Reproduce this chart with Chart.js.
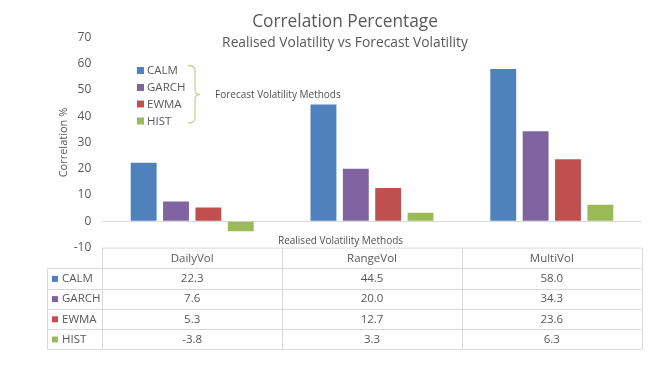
<!DOCTYPE html>
<html>
<head>
<meta charset="utf-8">
<script src="https://cdn.jsdelivr.net/npm/chart.js@4.4.1/dist/chart.umd.min.js"></script>
<style>
  body { margin: 0; background: #fff; }
  #wrap { width: 662px; height: 369px; position: relative; }
</style>
</head>
<body>
<div id="wrap"><canvas id="corrChart"></canvas></div>
<script>
// data
var categories = ['DailyVol', 'RangeVol', 'MultiVol'];
var methods = ['CALM', 'GARCH', 'EWMA', 'HIST'];
var calmValues = [22.3, 44.5, 58.0];
var garchValues = [7.6, 20.0, 34.3];
var ewmaValues = [5.3, 12.7, 23.6];
var histValues = [-3.8, 3.3, 6.3];
var yMin = -10, yMax = 70, yStep = 10;

var colors = ['#4f81bd', '#8064a2', '#c0504d', '#9bbb59'];
var seriesValues = [calmValues, garchValues, ewmaValues, histValues];
var textColor = '#595959';
var fontName = '"Open Sans", sans-serif';

var datasets = methods.map(function (m, i) {
    return {
        label: m,
        data: seriesValues[i],
        backgroundColor: colors[i],
        borderWidth: 0,
        categoryPercentage: 0.72,
        barPercentage: 0.8
    };
});

// titles, legend with brace, axis caption and the data table
var extrasPlugin = {
    id: 'extras',
    afterDraw: function (chart) {
        var ctx = chart.ctx;
        var area = chart.chartArea;
        var xs = chart.scales.x;
        ctx.save();

        // titles
        ctx.fillStyle = textColor;
        ctx.textAlign = 'center';
        ctx.textBaseline = 'alphabetic';
        ctx.font = '17.3px ' + fontName;
        ctx.fillText('Correlation Percentage', 345, 27);
        ctx.font = '13.8px ' + fontName;
        ctx.fillText('Realised Volatility vs Forecast Volatility', 345, 47);

        // legend
        ctx.textAlign = 'left';
        ctx.textBaseline = 'middle';
        ctx.font = '11.5px ' + fontName;
        var legendY = [70.5, 87.5, 104, 121];
        chart.data.datasets.forEach(function (ds, i) {
            ctx.fillStyle = ds.backgroundColor;
            ctx.fillRect(137, legendY[i] - 3.5, 7, 7);
            ctx.fillStyle = textColor;
            ctx.fillText(ds.label, 147, legendY[i] + 0.5);
        });

        // brace
        ctx.strokeStyle = '#c3d69b';
        ctx.lineWidth = 1.3;
        ctx.beginPath();
        ctx.moveTo(188, 65.5);
        ctx.quadraticCurveTo(195, 65.5, 195, 70);
        ctx.lineTo(195, 90);
        ctx.quadraticCurveTo(195, 94.5, 200, 94.5);
        ctx.quadraticCurveTo(195, 94.5, 195, 99);
        ctx.lineTo(195, 118);
        ctx.quadraticCurveTo(195, 123, 188, 123);
        ctx.stroke();

        ctx.fillStyle = '#505050';
        ctx.font = '10px ' + fontName;
        ctx.fillText('Forecast Volatility Methods', 215, 95.5);

        ctx.textAlign = 'center';
        ctx.fillText('Realised Volatility Methods', 340.5, 241);

        // data table
        var rowH = 20.2;
        var top = area.bottom + 0.5;
        var half = (xs.getPixelForValue(1) - xs.getPixelForValue(0)) / 2;
        var right = area.right;
        var labelLeft = 47.5;
        var nRows = methods.length;
        var bottomY = Math.round(top + (nRows + 1) * rowH) + 0.5;

        ctx.strokeStyle = '#d9d9d9';
        ctx.lineWidth = 1;
        ctx.beginPath();
        ctx.moveTo(area.left, top);
        ctx.lineTo(right, top);
        for (var r = 1; r <= nRows + 1; r++) {
            var y = Math.round(top + r * rowH) + 0.5;
            ctx.moveTo(labelLeft, y);
            ctx.lineTo(right, y);
        }
        ctx.moveTo(labelLeft, Math.round(top + rowH) + 0.5);
        ctx.lineTo(labelLeft, bottomY);
        for (var c = 0; c <= categories.length; c++) {
            var x = Math.round(xs.getPixelForValue(0) - half + c * 2 * half) + 0.5;
            ctx.moveTo(x, top);
            ctx.lineTo(x, bottomY);
        }
        ctx.stroke();

        ctx.font = '11.5px ' + fontName;
        ctx.fillStyle = textColor;
        ctx.textAlign = 'center';
        categories.forEach(function (cat, i) {
            ctx.fillText(cat, xs.getPixelForValue(i), top + rowH / 2 + 0.5);
        });
        chart.data.datasets.forEach(function (ds, r) {
            var cy = top + rowH * (r + 1.5) + 0.5;
            ctx.fillStyle = ds.backgroundColor;
            ctx.fillRect(52, cy - 3, 6, 6);
            ctx.fillStyle = textColor;
            ctx.textAlign = 'left';
            ctx.fillText(ds.label, 62, cy);
            ctx.textAlign = 'center';
            ds.data.forEach(function (v, i) {
                ctx.fillText(v.toFixed(1), xs.getPixelForValue(i), cy);
            });
        });

        ctx.restore();
    }
};

var ctx = document.getElementById('corrChart').getContext('2d');
var corrChart = new Chart(ctx, {
    type: 'bar',
    data: {
        labels: categories,
        datasets: datasets
    },
    options: {
        responsive: true,
        maintainAspectRatio: false,
        animation: false,
        layout: {
            padding: { top: 37.5, right: 20.3, bottom: 121.4, left: 0 }
        },
        plugins: {
            legend: { display: false },
            title: { display: false },
            tooltip: { enabled: false }
        },
        scales: {
            x: {
                display: false
            },
            y: {
                min: yMin,
                max: yMax,
                afterFit: function (scale) {
                    scale.width = 102.3;
                },
                ticks: {
                    stepSize: yStep,
                    padding: 11,
                    color: textColor,
                    font: { family: fontName, size: 12 }
                },
                grid: {
                    drawTicks: false,
                    color: function (c) {
                        return c.tick && c.tick.value === 0 ? '#d9d9d9' : 'rgba(0,0,0,0)';
                    }
                },
                border: { display: false },
                title: {
                    display: true,
                    text: 'Correlation %',
                    color: textColor,
                    font: { family: fontName, size: 11 },
                    padding: { top: 57, bottom: 0 }
                }
            }
        }
    },
    plugins: [extrasPlugin]
});
</script>
</body>
</html>
